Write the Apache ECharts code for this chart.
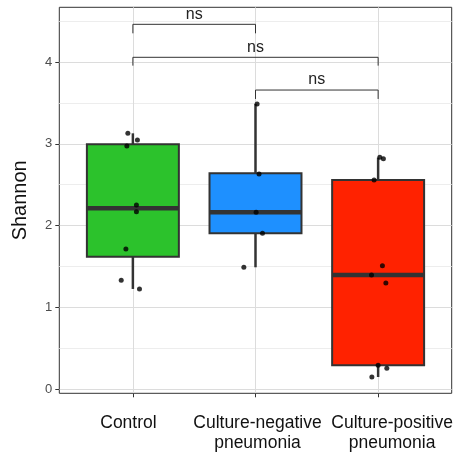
<!DOCTYPE html>
<html>
<head>
<meta charset="utf-8">
<script src="https://cdn.jsdelivr.net/npm/echarts@6/dist/echarts.min.js"></script>
<style>html,body{margin:0;padding:0;background:#fff}#c{width:460px;height:455px}</style>
</head>
<body>
<div id="c"></div>
<script>
// ---- data ----
var categories = ['Control', 'Culture-negative\npneumonia', 'Culture-positive\npneumonia'];
var boxColors = ['#2cc22c', '#1e90ff', '#ff2200'];
// box statistics: lower whisker, Q1, median, Q3, upper whisker
var whiskerLow  = [1.226, 1.491, 0.150];
var q1          = [1.621, 1.906, 0.295];
var median      = [2.212, 2.163, 1.397];
var q3          = [2.994, 2.640, 2.558];
var whiskerHigh = [3.128, 3.487, 2.830];
// individual samples (value) and their horizontal jitter (category units)
var controlValues = [3.128, 3.047, 2.973, 2.252, 2.171, 1.715, 1.332, 1.226];
var controlJitter = [-0.041, 0.037, -0.049, 0.029, 0.029, -0.057, -0.095, 0.054];
var negativeValues = [3.487, 2.631, 2.163, 1.906, 1.491];
var negativeJitter = [0.013, 0.029, 0.005, 0.057, -0.095];
var positiveValues = [2.835, 2.818, 2.558, 1.511, 1.397, 1.299, 0.293, 0.257, 0.150];
var positiveJitter = [0.014, 0.043, -0.033, 0.035, -0.054, 0.063, 0.0, 0.071, -0.051];
// significance brackets: from group, to group, bracket level, tip level, label
var bracketFrom  = [0, 0, 1];
var bracketTo    = [1, 2, 2];
var bracketLevel = [4.460, 4.057, 3.657];
var bracketTip   = [4.350, 3.955, 3.548];
var bracketLabel = ['ns', 'ns', 'ns'];
var xTicks = [0, 1, 2];
var xLabelAt = [-0.036, 0.016, 0.114];   // label centres as drawn in the reference (category units)
var yTicks = [0, 1, 2, 3, 4];
var yMinor = [0.5, 1.5, 2.5, 3.5, 4.5];

// ---- build ----
var FONT = '"Liberation Sans", Arial, Helvetica, sans-serif';
var BOX_WIDTH = 0.75;
var boxData = categories.map(function (c, i) {
  return [i, whiskerLow[i], q1[i], median[i], q3[i], whiskerHigh[i]];
});
var pointData = [];
[[controlValues, controlJitter], [negativeValues, negativeJitter], [positiveValues, positiveJitter]].forEach(function (g, i) {
  g[0].forEach(function (v, k) { pointData.push([i + g[1][k], v]); });
});
var bracketData = bracketFrom.map(function (f, i) {
  return [f, bracketTo[i], bracketLevel[i], bracketTip[i]];
});
var labelValues = xTicks.map(function (t, i) { return t + xLabelAt[i]; });

var chart = echarts.init(document.getElementById('c'), null, {renderer: 'canvas'});
chart.setOption({
  animation: false,
  backgroundColor: '#fff',
  grid: {left: 59.3, right: 8.3, top: 7.3, bottom: 61.7, show: true, borderColor: '#333', borderWidth: 1, backgroundColor: 'transparent'},
  xAxis: {
    type: 'value', min: -0.6, max: 2.6,
    axisLine: {show: false, onZero: false},
    axisTick: {show: true, customValues: xTicks, length: 4, lineStyle: {color: '#333', width: 1}},
    axisLabel: {customValues: labelValues, margin: 20, color: '#111', fontSize: 17.5, lineHeight: 20, fontFamily: FONT,
      hideOverlap: false,
      formatter: function (v) { return categories[Math.round(v)]; }},
    splitLine: {show: true, lineStyle: {color: '#dcdcdc', width: 1}}
  },
  yAxis: [{
    type: 'value', min: -0.049, max: 4.668,
    name: 'Shannon', nameLocation: 'middle', nameGap: 29, nameRotate: 90,
    nameTextStyle: {fontSize: 20, color: '#111', fontFamily: FONT},
    axisLine: {show: false, onZero: false},
    axisTick: {show: true, customValues: yTicks, length: 4, lineStyle: {color: '#333', width: 1}},
    axisLabel: {customValues: yTicks, margin: 7, color: '#4d4d4d', fontSize: 13, fontFamily: FONT},
    splitLine: {show: true, lineStyle: {color: '#dcdcdc', width: 1}}
  }, {
    type: 'value', min: -0.049, max: 4.668, position: 'left',
    axisLine: {show: false, onZero: false},
    axisTick: {show: false, customValues: yMinor},
    axisLabel: {show: false, customValues: yMinor},
    splitLine: {show: true, lineStyle: {color: '#ededed', width: 1}}
  }],
  series: [{
    type: 'custom', z: 3,
    encode: {x: 0, y: [1, 2, 3, 4, 5]},
    data: boxData,
    renderItem: function (params, api) {
      var x = api.value(0);
      var lo = api.coord([x, api.value(1)]);
      var b1 = api.coord([x, api.value(2)]);
      var md = api.coord([x, api.value(3)]);
      var b3 = api.coord([x, api.value(4)]);
      var hi = api.coord([x, api.value(5)]);
      var half = api.size([BOX_WIDTH, 0])[0] / 2;
      var ln = {stroke: '#333', lineWidth: 2.5};
      return {type: 'group', children: [
        {type: 'line', shape: {x1: lo[0], y1: lo[1], x2: b1[0], y2: b1[1]}, style: ln},
        {type: 'line', shape: {x1: b3[0], y1: b3[1], x2: hi[0], y2: hi[1]}, style: ln},
        {type: 'rect', shape: {x: b1[0] - half, y: b3[1], width: 2 * half, height: b1[1] - b3[1]},
          style: {fill: boxColors[params.dataIndex], stroke: '#333', lineWidth: 2}},
        {type: 'line', shape: {x1: md[0] - half, y1: md[1], x2: md[0] + half, y2: md[1]}, style: {stroke: '#333', lineWidth: 4.5}}
      ]};
    }
  }, {
    type: 'scatter', z: 5,
    data: pointData,
    symbol: 'circle', symbolSize: 5,
    itemStyle: {color: '#000'}
  }, {
    type: 'custom', z: 4,
    encode: {x: [0, 1], y: [2, 3]},
    data: bracketData,
    renderItem: function (params, api) {
      var a = api.coord([api.value(0), api.value(3)]);
      var b = api.coord([api.value(0), api.value(2)]);
      var c = api.coord([api.value(1), api.value(2)]);
      var d = api.coord([api.value(1), api.value(3)]);
      return {type: 'group', children: [
        {type: 'polyline', shape: {points: [a, b, c, d]}, style: {stroke: '#333', lineWidth: 1, fill: null}},
        {type: 'text', style: {text: bracketLabel[params.dataIndex], x: (b[0] + c[0]) / 2, y: b[1] - 2,
          align: 'center', verticalAlign: 'bottom', textAlign: 'center', textVerticalAlign: 'bottom',
          font: '16px ' + FONT, fill: '#222'}}
      ]};
    }
  }]
});
</script>
</body>
</html>
